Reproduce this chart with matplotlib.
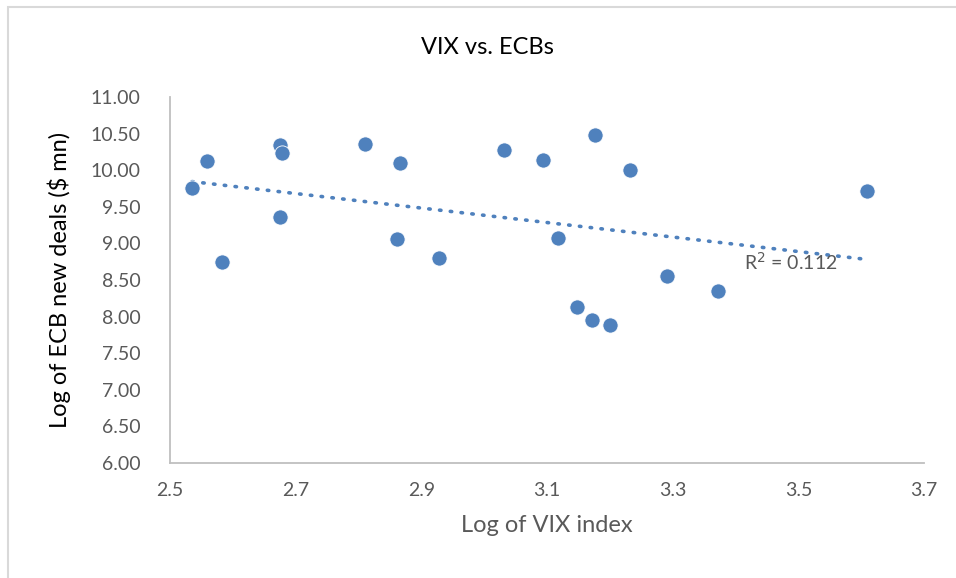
import numpy as np
import matplotlib
matplotlib.use("Agg")
import matplotlib.pyplot as plt
from matplotlib.patches import Rectangle

plt.rcParams['font.family'] = ['Lato', 'DejaVu Sans']

# log of VIX index vs log of new ECB deals
log_vix = [2.535, 2.559, 2.582, 2.675, 2.679, 2.675, 2.811, 2.866, 2.861, 2.928,
           3.032, 3.094, 3.177, 3.232, 3.118, 3.291, 3.372, 3.147, 3.171, 3.201,
           3.609]
log_ecb = [9.761, 10.122, 8.746, 10.344, 10.239, 9.357, 10.354, 10.094, 9.060, 8.805,
           10.276, 10.139, 10.485, 9.999, 9.078, 8.559, 8.350, 8.127, 7.949, 7.881,
           9.720]
x_ticks = [2.5, 2.7, 2.9, 3.1, 3.3, 3.5, 3.7]
y_ticks = [6.0, 6.5, 7.0, 7.5, 8.0, 8.5, 9.0, 9.5, 10.0, 10.5, 11.0]
r2_text = "R$^2$ = 0.112"

blue = "#4F81BD"
grey = "#595959"

fig = plt.figure(figsize=(9.56, 5.78), dpi=100)
ax = fig.add_axes([170 / 956, 115 / 578, 754 / 956, 366 / 578])

# outer chart border
fig.patches.append(Rectangle((8 / 956, -0.05), 1.1, (571.5 / 578) + 0.05,
                             transform=fig.transFigure, fill=False,
                             edgecolor="#D9D9D9", linewidth=1.5))

ax.scatter(log_vix, log_ecb, s=120, color=blue, edgecolor="white",
           linewidth=0.6, zorder=3)

# linear trendline over the data range
x = np.array(log_vix)
y = np.array(log_ecb)
slope, intercept = np.polyfit(x, y, 1)
xs = np.array([x.min(), x.max()])
ax.plot(xs, slope * xs + intercept, color=blue, linestyle=(0, (0.4, 2.6)),
        linewidth=2.6, dash_capstyle="round", zorder=2)
ax.text(3.413, 8.746, r2_text, color=grey, fontsize=14, ha="left", va="center")

ax.set_xlim(2.5, 3.7)
ax.set_ylim(6.0, 11.0)
ax.set_xticks(x_ticks)
ax.set_xticklabels([f"{v:.1f}" for v in x_ticks])
ax.set_yticks(y_ticks)
ax.set_yticklabels([f"{v:.2f}" for v in y_ticks])
ax.tick_params(length=0, labelsize=14, labelcolor=grey)
ax.tick_params(axis="y", pad=21)
ax.tick_params(axis="x", pad=14)

for side in ["top", "right"]:
    ax.spines[side].set_visible(False)
for side in ["left", "bottom"]:
    ax.spines[side].set_color("#BFBFBF")
    ax.spines[side].set_linewidth(1.3)

ax.set_xlabel("Log of VIX index", fontsize=17, color=grey, labelpad=11)
ax.set_ylabel("Log of ECB new deals ($ mn)", fontsize=17, color="black", labelpad=14)
fig.text(487 / 956, 1 - 47 / 578, "VIX vs. ECBs", fontsize=17, color="black",
         ha="center", va="center")

fig.savefig("out.png", dpi=100)
